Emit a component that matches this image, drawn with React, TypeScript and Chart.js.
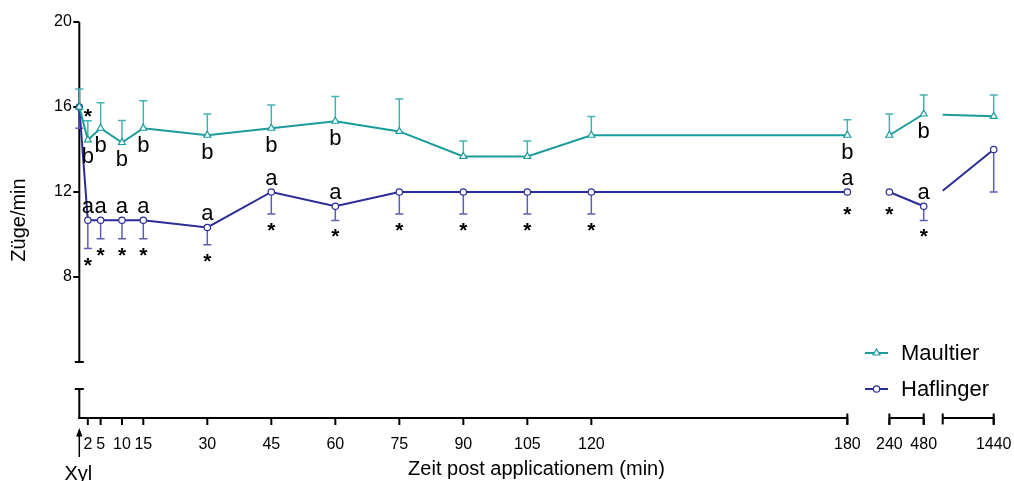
import { useEffect, useRef } from "react";
import { Chart, registerables } from "chart.js";

Chart.register(...registerables);

// Sampling times in minutes after xylazine
const times = [0, 2, 5, 10, 15, 30, 45, 60, 75, 90, 105, 120, 180, 240, 480, 1440];

// Breathing rate (breaths/min), mean and SD
const maultierMean = [16.0, 14.45, 15.0, 14.33, 15.0, 14.67, 15.0, 15.33, 14.85, 13.67, 13.67, 14.67, 14.67, 14.67, 15.67, 15.56];
const maultierSD = [0.85, 0.9, 1.2, 1.03, 1.3, 1.0, 1.1, 1.17, 1.53, 0.73, 0.73, 0.88, 0.73, 1.0, 0.9, 1.01];
const haflingerMean = [16.0, 10.67, 10.67, 10.67, 10.67, 10.33, 12.0, 11.33, 12.0, 12.0, 12.0, 12.0, 12.0, 12.0, 11.33, 14.0];
const haflingerSD = [1.0, 1.33, 0.87, 0.87, 0.87, 0.81, 1.04, 0.67, 1.04, 1.04, 1.04, 1.04, 0, 0, 0.67, 2.0];

// Significance marks
const maultierLetters = ["", "b", "b", "b", "b", "b", "b", "b", "", "", "", "", "b", "", "b", ""];
const maultierStars = ["", "*", "", "", "", "", "", "", "", "", "", "", "", "", "", ""];
const haflingerLetters = ["", "a", "a", "a", "a", "a", "a", "a", "", "", "", "", "a", "", "a", ""];
const haflingerStars = ["", "*", "*", "*", "*", "*", "*", "*", "*", "*", "*", "*", "*", "*", "*", ""];

const xTickValues = [2, 5, 10, 15, 30, 45, 60, 75, 90, 105, 120, 180, 240, 480, 1440];
const yTickValues = [8, 12, 16, 20];

const seriesNames = ["Maultier", "Haflinger"];

// Broken time axis: real minutes [from, to] shown on axis units [start, end]
const xSegments = [
  { from: 0, to: 180, start: 0, end: 180 },
  { from: 240, to: 480, start: 189.85, end: 197.9 },
  { from: 720, to: 1440, start: 202.35, end: 214.3 },
];

const segmentOf = (t: number) => {
  for (let i = 0; i < xSegments.length; i++) {
    if (t >= xSegments[i].from && t <= xSegments[i].to) return i;
  }
  return -1;
};

const toAxis = (t: number) => {
  const s = xSegments[segmentOf(t)];
  return s.start + ((t - s.from) / (s.to - s.from)) * (s.end - s.start);
};

const TEAL = "#1a9c9c";
const TEAL_ERR = "#45b3b3";
const BLUE = "#2c2c98";
const BLUE_ERR = "#5e5eb6";
const FONT = '"Liberation Sans", Arial, Helvetica, sans-serif';

const series = [
  { mean: maultierMean, sd: maultierSD, dir: 1, letters: maultierLetters, stars: maultierStars, color: TEAL, errColor: TEAL_ERR, style: "triangle" },
  { mean: haflingerMean, sd: haflingerSD, dir: -1, letters: haflingerLetters, stars: haflingerStars, color: BLUE, errColor: BLUE_ERR, style: "circle" },
];

const Y_BREAK_GAP = 27; // gap between upper y-axis part and lower stub
const X_AXIS_DROP = 56; // x axis sits this far below the plotting area

function drawCentered(ctx: CanvasRenderingContext2D, text: string, x: number, cy: number) {
  const m = ctx.measureText(text);
  const base = cy + (m.actualBoundingBoxAscent - m.actualBoundingBoxDescent) / 2;
  ctx.fillText(text, x, base);
}

const brokenAxes = {
  id: "brokenAxes",
  beforeDatasetsDraw(chart: any) {
    const { ctx, chartArea } = chart;
    const xs = chart.scales.x;
    const ys = chart.scales.y;
    const x0 = xs.getPixelForValue(0);
    const yTop = ys.getPixelForValue(20);
    const yBot = chartArea.bottom;
    const yStub = yBot + Y_BREAK_GAP;
    const xAxisY = yBot + X_AXIS_DROP;

    ctx.save();
    ctx.strokeStyle = "#000";
    ctx.fillStyle = "#000";
    ctx.lineWidth = 2;
    ctx.lineCap = "butt";

    // y axis, upper part
    ctx.beginPath();
    ctx.moveTo(x0, yTop);
    ctx.lineTo(x0, yBot);
    ctx.moveTo(x0 - 4.5, yBot);
    ctx.lineTo(x0 + 4.5, yBot);
    // lower stub
    ctx.moveTo(x0 - 4.5, yStub);
    ctx.lineTo(x0 + 4.5, yStub);
    ctx.moveTo(x0, yStub);
    ctx.lineTo(x0, xAxisY + 1);
    ctx.stroke();

    // y ticks and labels
    ctx.font = `16px ${FONT}`;
    ctx.textAlign = "right";
    ctx.textBaseline = "middle";
    for (const v of yTickValues) {
      const py = ys.getPixelForValue(v);
      ctx.beginPath();
      ctx.moveTo(x0 - 6, py);
      ctx.lineTo(x0, py);
      ctx.stroke();
      ctx.fillText(String(v), x0 - 7.5, py);
    }

    // x axis segments with break caps
    xSegments.forEach((s, i) => {
      const a = xs.getPixelForValue(s.start);
      const b = xs.getPixelForValue(s.end);
      ctx.beginPath();
      ctx.moveTo(i === 0 ? x0 - 1 : a, xAxisY);
      ctx.lineTo(b, xAxisY);
      if (i > 0) {
        ctx.moveTo(a, xAxisY - 4.5);
        ctx.lineTo(a, xAxisY + 6.5);
      }
      ctx.moveTo(b, xAxisY - 4.5);
      ctx.lineTo(b, xAxisY + 6.5);
      ctx.stroke();
    });

    // x ticks and labels
    ctx.textAlign = "center";
    ctx.textBaseline = "alphabetic";
    for (const t of xTickValues) {
      const px = xs.getPixelForValue(toAxis(t));
      ctx.beginPath();
      ctx.moveTo(px, xAxisY);
      ctx.lineTo(px, xAxisY + 7);
      ctx.stroke();
      ctx.fillText(String(t), px, xAxisY + 31);
    }

    // application arrow
    ctx.lineWidth = 1.5;
    ctx.beginPath();
    ctx.moveTo(x0, xAxisY + 16);
    ctx.lineTo(x0, xAxisY + 39);
    ctx.stroke();
    ctx.beginPath();
    ctx.moveTo(x0, xAxisY + 10);
    ctx.lineTo(x0 - 3.2, xAxisY + 18.5);
    ctx.lineTo(x0 + 3.2, xAxisY + 18.5);
    ctx.closePath();
    ctx.fill();

    // error bars
    chart.data.datasets.forEach((_: any, di: number) => {
      const s = series[di];
      const meta = chart.getDatasetMeta(di);
      ctx.strokeStyle = s.errColor;
      ctx.lineWidth = 1.5;
      meta.data.forEach((pt: any, i: number) => {
        if (!s.sd[i]) return;
        const end = ys.getPixelForValue(s.mean[i] + s.dir * s.sd[i]);
        ctx.beginPath();
        ctx.moveTo(pt.x, pt.y);
        ctx.lineTo(pt.x, end);
        ctx.moveTo(pt.x - 4, end);
        ctx.lineTo(pt.x + 4, end);
        ctx.stroke();
      });

      // visible parts of lines that cross an axis break
      ctx.strokeStyle = s.color;
      ctx.lineWidth = 2;
      for (let i = 0; i < meta.data.length - 1; i++) {
        const s0 = segmentOf(times[i]);
        const s1 = segmentOf(times[i + 1]);
        if (s0 === s1) continue;
        const p0 = meta.data[i];
        const p1 = meta.data[i + 1];
        const yAt = (px: number) => p0.y + ((px - p0.x) / (p1.x - p0.x)) * (p1.y - p0.y);
        const segStart = xs.getPixelForValue(xSegments[s1].start);
        if (p1.x > segStart + 0.5) {
          ctx.beginPath();
          ctx.moveTo(segStart, yAt(segStart));
          ctx.lineTo(p1.x, p1.y);
          ctx.stroke();
        }
        const segEnd = xs.getPixelForValue(xSegments[s0].end);
        if (segEnd > p0.x + 0.5) {
          ctx.beginPath();
          ctx.moveTo(p0.x, p0.y);
          ctx.lineTo(segEnd, yAt(segEnd));
          ctx.stroke();
        }
      }
    });
    ctx.restore();
  },
  afterDatasetsDraw(chart: any) {
    const { ctx, chartArea } = chart;
    const xs = chart.scales.x;
    const ys = chart.scales.y;
    const x0 = xs.getPixelForValue(0);
    const xAxisY = chartArea.bottom + X_AXIS_DROP;

    ctx.save();
    ctx.fillStyle = "#000";
    ctx.textAlign = "center";

    chart.data.datasets.forEach((_: any, di: number) => {
      const s = series[di];
      const meta = chart.getDatasetMeta(di);
      meta.data.forEach((pt: any, i: number) => {
        if (s.letters[i]) {
          ctx.font = `22px ${FONT}`;
          drawCentered(ctx, s.letters[i], pt.x, pt.y + (s.dir > 0 ? 15.5 : -13));
        }
        if (s.stars[i]) {
          const end = ys.getPixelForValue(s.mean[i] + s.dir * s.sd[i]);
          ctx.font = `bold 21px ${FONT}`;
          const cy = s.dir > 0 ? end - 8 : Math.max(end + 13, pt.y + 19);
          drawCentered(ctx, s.stars[i], pt.x, cy);
        }
      });
    });

    // axis titles
    ctx.font = `20px ${FONT}`;
    ctx.textBaseline = "alphabetic";
    ctx.fillText("Zeit post applicationem (min)", 536.5, xAxisY + 57);
    ctx.fillText("Xyl", x0 - 1, xAxisY + 62);

    ctx.save();
    ctx.translate(19, (chartArea.top + xAxisY) / 2);
    ctx.rotate(-Math.PI / 2);
    ctx.textBaseline = "middle";
    ctx.fillText("Züge/min", 0, 0);
    ctx.restore();

    // legend
    const legendRows = [353, 389];
    seriesNames.forEach((name, i) => {
      const s = series[i];
      const ly = legendRows[i];
      ctx.strokeStyle = s.color;
      ctx.lineWidth = 2;
      ctx.beginPath();
      ctx.moveTo(865, ly);
      ctx.lineTo(888, ly);
      ctx.stroke();
      ctx.fillStyle = "#fff";
      ctx.lineWidth = 1.2;
      ctx.beginPath();
      if (s.style === "triangle") {
        const r = 4;
        ctx.moveTo(876.5, ly - r);
        ctx.lineTo(876.5 + r * 0.866, ly + r * 0.5);
        ctx.lineTo(876.5 - r * 0.866, ly + r * 0.5);
        ctx.closePath();
      } else {
        ctx.arc(876.5, ly, 3.2, 0, Math.PI * 2);
      }
      ctx.fill();
      ctx.stroke();
      ctx.fillStyle = "#000";
      ctx.font = `22px ${FONT}`;
      ctx.textAlign = "left";
      ctx.textBaseline = "middle";
      ctx.fillText(name, 901, ly + 1);
    });
    ctx.restore();
  },
};

export default function App() {
  const ref = useRef<HTMLCanvasElement>(null);

  useEffect(() => {
    if (!ref.current) return;
    const hideBreakSegments = (c: any) =>
      segmentOf(times[c.p0DataIndex]) !== segmentOf(times[c.p1DataIndex]) ? "rgba(0,0,0,0)" : undefined;

    const chart = new Chart(ref.current, {
      type: "line",
      data: {
        datasets: series.map((s, di) => ({
          label: seriesNames[di],
          data: times.map((t, i) => ({ x: toAxis(t), y: s.mean[i] })),
          borderColor: s.color,
          borderWidth: 2,
          pointStyle: s.style as any,
          pointRadius: s.style === "triangle" ? 4 : 3.2,
          pointBorderWidth: 1.2,
          pointBackgroundColor: "#fff",
          pointBorderColor: s.color,
          tension: 0,
          clip: false as any,
          segment: { borderColor: hideBreakSegments },
        })),
      },
      options: {
        responsive: false,
        animation: false,
        events: [],
        layout: { padding: { left: 79.3, right: 20.3, top: 22, bottom: 119 } },
        scales: {
          x: { type: "linear", min: 0, max: xSegments[2].end, display: false },
          y: { type: "linear", min: 4, max: 20, display: false },
        },
        plugins: {
          legend: { display: false },
          tooltip: { enabled: false },
        },
      },
      plugins: [brokenAxes],
    });
    return () => chart.destroy();
  }, []);

  return (
    <div style={{ position: "fixed", left: 0, top: 0, width: 1014, height: 481, background: "#fff" }}>
      <canvas ref={ref} width={1014} height={481} style={{ display: "block", width: 1014, height: 481 }} />
    </div>
  );
}
